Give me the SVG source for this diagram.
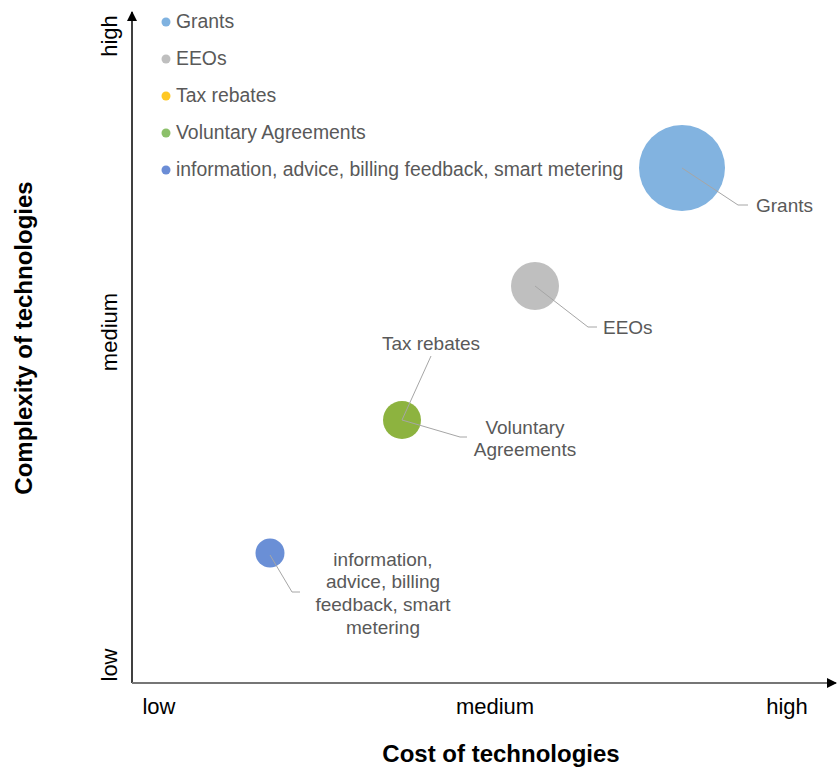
<svg xmlns="http://www.w3.org/2000/svg" width="838" height="769" viewBox="0 0 838 769">
<defs>
<marker id="arr" viewBox="0 0 10 10" refX="9" refY="5" markerWidth="10" markerHeight="10" markerUnits="userSpaceOnUse" orient="auto">
<path d="M0,0 L10,5 L0,10 Z" fill="#000"/>
</marker>
<style>
text{font-family:"Liberation Sans",Arial,sans-serif;fill:#595959;font-size:19px}
.lg{font-size:19.4px}
.ax{fill:#000;font-size:22px}
.title{fill:#000;font-size:24px;font-weight:bold}
.lead{fill:none;stroke:#A6A6A6;stroke-width:1}
</style>
</defs>
<rect width="838" height="769" fill="#fff"/>
<g id="axes">
<line x1="132" y1="683" x2="132" y2="12" stroke="#000" stroke-width="1.5" marker-end="url(#arr)"/>
<line x1="132" y1="683" x2="836" y2="683" stroke="#767676" stroke-width="2" marker-end="url(#arr)"/>
<text class="ax" transform="translate(117,36) rotate(-90)" text-anchor="middle">high</text>
<text class="ax" transform="translate(117,332) rotate(-90)" text-anchor="middle">medium</text>
<text class="ax" transform="translate(117,665) rotate(-90)" text-anchor="middle">low</text>
<text class="ax" x="159" y="714" text-anchor="middle">low</text>
<text class="ax" x="495" y="714" text-anchor="middle">medium</text>
<text class="ax" x="787" y="714" text-anchor="middle">high</text>
<text class="title" transform="translate(32,338) rotate(-90)" text-anchor="middle">Complexity of technologies</text>
<text class="title" x="501" y="762" text-anchor="middle">Cost of technologies</text>
</g>
<g id="legend">
<circle cx="166" cy="22" r="4.5" fill="#7FB2E0"/><text class="lg" x="176" y="28">Grants</text>
<circle cx="166" cy="59" r="4.5" fill="#BFBFBF"/><text class="lg" x="176" y="65">EEOs</text>
<circle cx="166" cy="96" r="4.5" fill="#FFC824"/><text class="lg" x="176" y="102">Tax rebates</text>
<circle cx="166" cy="133" r="4.5" fill="#8CC06A"/><text class="lg" x="176" y="139">Voluntary Agreements</text>
<circle cx="166" cy="170" r="4.5" fill="#6B8DD6"/><text class="lg" x="176" y="176">information, advice, billing feedback, smart metering</text>
</g>
<g id="grants">
<circle cx="682" cy="168" r="43" fill="#82B3E0"/>
<text x="756" y="212">Grants</text>
</g>
<g id="eeos">
<circle cx="535" cy="286" r="24" fill="#BFBFBF"/>
<text x="603" y="334">EEOs</text>
</g>
<g id="voluntary">
<circle cx="402" cy="420" r="19" fill="#8DB33F"/>
<text x="525" y="434" text-anchor="middle">Voluntary</text>
<text x="525" y="456" text-anchor="middle">Agreements</text>
</g>
<g id="taxrebates">
<text x="431" y="350" text-anchor="middle">Tax rebates</text>
</g>
<g id="info">
<circle cx="270" cy="553" r="14.5" fill="#6A8FD6"/>
<text x="383" y="566" text-anchor="middle">information,</text>
<text x="383" y="588" text-anchor="middle">advice, billing</text>
<text x="383" y="611" text-anchor="middle">feedback, smart</text>
<text x="383" y="634" text-anchor="middle">metering</text>
</g>
<g id="connectors">
<polyline class="lead" points="682,168 738,205 748,205"/>
<polyline class="lead" points="535,286 588,327 597,327"/>
<polyline class="lead" points="402,420 431,356"/>
<polyline class="lead" points="402,420 460,437 467,437"/>
<polyline class="lead" points="270,555 292,592 300,592"/>
</g>
</svg>
